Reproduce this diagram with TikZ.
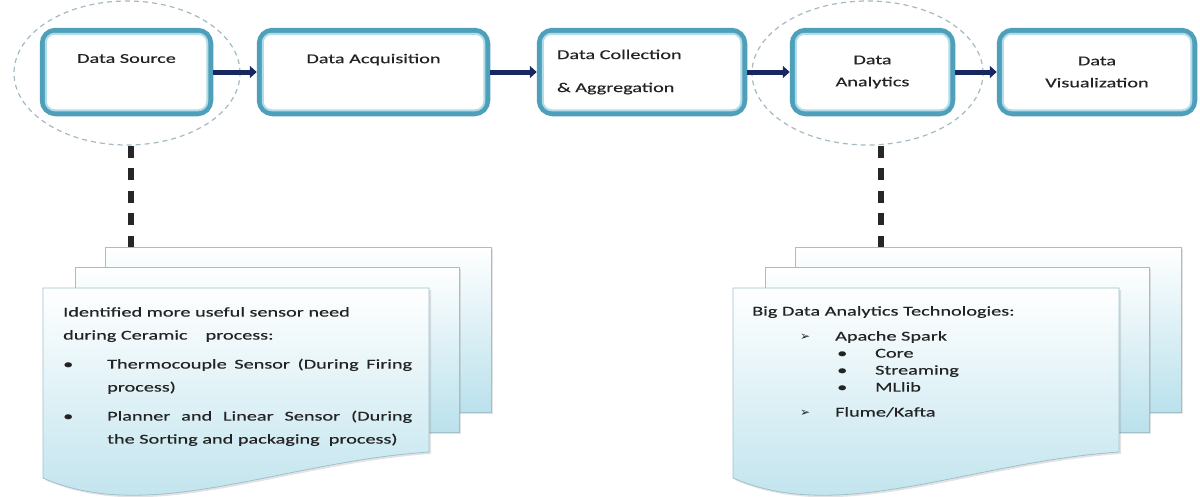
\documentclass[tikz,border=0pt]{standalone}
\usepackage{fontspec}
\setmainfont{Carlito}[FakeStretch=1.5, FakeBold=0.35]
\newfontfamily\arrowfont{DejaVu Sans}
\usepackage{tikz}
\usetikzlibrary{arrows.meta, shapes.geometric, shadows}

\definecolor{rimblue}{RGB}{78,160,186}
\definecolor{rimlight}{RGB}{178,220,232}
\definecolor{flownavy}{RGB}{22,40,95}
\definecolor{ringgray}{RGB}{165,185,195}
\definecolor{pageblue}{RGB}{186,225,236}
\definecolor{pageedge}{RGB}{160,192,204}
\definecolor{inkgray}{RGB}{35,35,35}

\tikzset{
  stage/.style={draw=rimblue, line width=5.5pt, fill=white, rounded corners=13pt, minimum height=83pt,
    text=inkgray, align=center, font=\fontsize{13.5}{22}\selectfont},
  toptext/.style={text depth=27pt},
  rimline/.style={draw=rimlight, line width=2pt, rounded corners=9pt},
  flow/.style={flownavy, line width=5pt, -{Triangle[length=7pt,width=12pt]}},
  ring/.style={ellipse, draw=ringgray, line width=1.2pt, dash pattern=on 5pt off 4pt, inner sep=0pt},
  tether/.style={black!85, line width=5.5pt, dash pattern=on 12pt off 10.5pt},
  page/.style={draw=pageedge, line width=0.8pt, top color=white, bottom color=pageblue,
    drop shadow={opacity=0.22, shadow xshift=2pt, shadow yshift=-2pt}},
  note/.style={inner sep=0pt, text=inkgray, anchor=north west}
}

\begin{document}
\begin{tikzpicture}[x=1pt, y=-1pt]
  \useasboundingbox (0,0) rectangle (1200,496);

  \node[ring, minimum width=226pt, minimum height=144pt] (srcring) at (127,73) {};
  \node[ring, minimum width=231pt, minimum height=144pt] (anaring) at (867.5,73) {};

  \node[stage, toptext, minimum width=168pt] (src) at (126.5,72) {Data Source};
  \node[stage, toptext, minimum width=228pt] (acq) at (373.5,72) {Data Acquisition};
  \node[stage, minimum width=205pt, text width=170pt, align=left] (col) at (642,72) {Data Collection\\[11pt]\& Aggregation};
  \node[stage, minimum width=160pt] (ana) at (872.5,72) {Data\\Analytics};
  \node[stage, minimum width=195pt] (vis) at (1097,72) {Data\\Visualization};
  \foreach \b in {src,acq,col,ana,vis}
    \draw[rimline] ([shift={(6pt,-6pt)}]\b.north west) rectangle ([shift={(-6pt,6pt)}]\b.south east);

  \draw[flow] (src.east) -- (acq.west);
  \draw[flow] (acq.east) -- (col.west);
  \draw[flow] (col.east) -- (ana.west);
  \draw[flow] (ana.east) -- (vis.west);

  \coordinate (srcfoot) at (131,247);
  \coordinate (anafoot) at (881,247);
  \draw[tether] (srcring.south -| srcfoot) -- (srcfoot);
  \draw[tether] (anaring.south -| anafoot) -- (anafoot);

  \foreach \dx in {0,690} {
    \begin{scope}[xshift=\dx]
      \path[page] (105,247) rectangle (491,412);
      \path[page] (75,267) rectangle (459,432);
      \path[page] (43,288) -- (429,288) -- (429,452) .. controls (280,462) and (150,525) .. (43,478) -- cycle;
    \end{scope}
  }

  \node[note, text width=349pt, align=justify, font=\fontsize{13.5}{23}\selectfont] (srcnote) at (63,307) {%
    \setlength{\parskip}{6pt}%
    Identified more useful sensor need\newline during Ceramic\quad\ process:\par
    \hangindent=44pt\hangafter=1\noindent\makebox[44pt][l]{\textbullet}Thermocouple Sensor (During Firing\linebreak process)\par
    \hangindent=44pt\hangafter=1\noindent\makebox[44pt][l]{\textbullet}Planner and Linear Sensor (During\linebreak the Sorting and packaging\ \ process)\par};

  \node[note, align=left, font=\fontsize{13.5}{17}\selectfont] (ananote) at (752,306) {%
    Big Data Analytics Technologies:\\[8pt]
    \hspace*{48pt}\makebox[35pt][l]{\arrowfont\fontsize{12}{12}\selectfont ➢}Apache Spark\\
    \hspace*{85pt}\makebox[38pt][l]{\textbullet}Core\\
    \hspace*{85pt}\makebox[38pt][l]{\textbullet}Streaming\\
    \hspace*{85pt}\makebox[38pt][l]{\textbullet}MLlib\\[8pt]
    \hspace*{48pt}\makebox[35pt][l]{\arrowfont\fontsize{12}{12}\selectfont ➢}Flume/Kafta};
\end{tikzpicture}
\end{document}
